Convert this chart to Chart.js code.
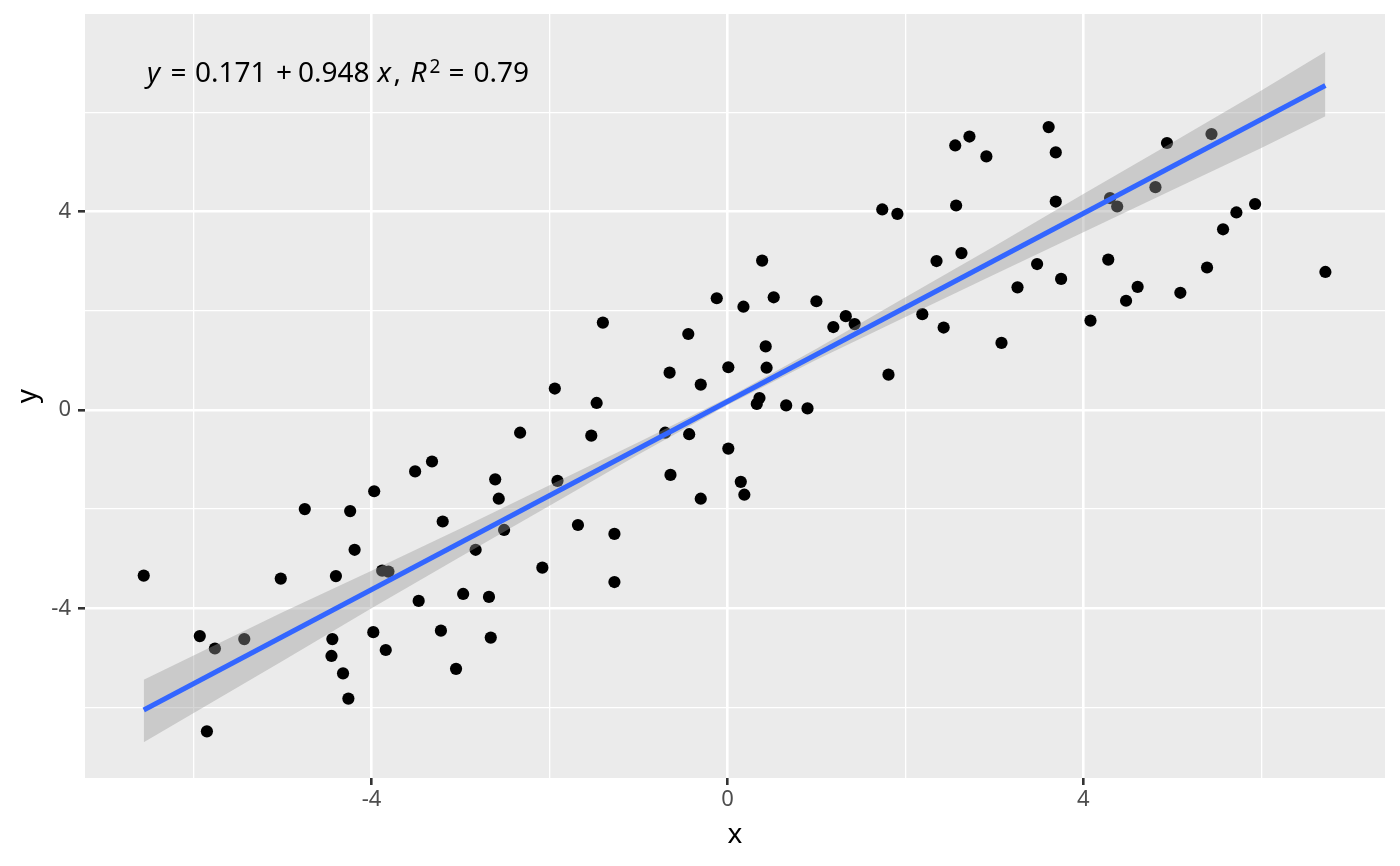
<!DOCTYPE html>
<html>
<head>
<meta charset="utf-8">
<title>Regression scatter</title>
<script src="https://cdn.jsdelivr.net/npm/chart.js@4/dist/chart.umd.min.js"></script>
<style>
  html, body { margin: 0; padding: 0; background: #ffffff; }
  canvas { display: block; }
</style>
</head>
<body>
<canvas id="regChart" width="1400" height="866"></canvas>
<script>
const xValues = [
  -6.56, -5.93, -5.76, -5.43, -5.85, -5.02, -4.75, -4.40, -4.44, -4.45,
  -4.32, -4.26, -4.24, -4.19, -3.97, -3.98, -3.88, -3.81, -3.84, -3.51,
  -3.47, -3.32, -3.20, -3.22, -3.05, -2.97, -2.83, -2.68, -2.66, -2.61,
  -2.57, -2.51, -2.33, -2.08, -1.94, -1.91, -1.68, -1.53, -1.47, -1.40,
  -1.27, -1.27, -0.70, -0.65, -0.64, -0.44, -0.43, -0.30, -0.30, -0.12,
   0.01,  0.01,  0.15,  0.18,  0.19,  0.33,  0.36,  0.39,  0.43,  0.44,
   0.52,  0.66,  0.90,  1.00,  1.19,  1.33,  1.43,  1.74,  1.81,  1.91,
   2.19,  2.35,  2.43,  2.56,  2.57,  2.63,  2.72,  2.91,  3.08,  3.26,
   3.48,  3.61,  3.69,  3.69,  3.75,  4.08,  4.28,  4.30,  4.38,  4.48,
   4.61,  4.81,  4.94,  5.09,  5.39,  5.44,  5.57,  5.72,  5.93,  6.72
];
const yValues = [
  -3.34, -4.56, -4.81, -4.62, -6.48, -3.40, -2.00, -3.35, -4.62, -4.96,
  -5.31, -5.82, -2.04, -2.82, -1.64, -4.48, -3.24, -3.26, -4.84, -1.24,
  -3.85, -1.04, -2.25, -4.45, -5.22, -3.71, -2.82, -3.77, -4.59, -1.40,
  -1.79, -2.42, -0.46, -3.18,  0.43, -1.43, -2.32, -0.52,  0.14,  1.76,
  -2.50, -3.47, -0.46,  0.75, -1.31,  1.53, -0.49,  0.51, -1.79,  2.25,
   0.86, -0.78, -1.45,  2.08, -1.71,  0.12,  0.24,  3.01,  1.28,  0.85,
   2.27,  0.09,  0.03,  2.19,  1.67,  1.89,  1.73,  4.04,  0.71,  3.95,
   1.93,  3.00,  1.66,  5.33,  4.12,  3.16,  5.51,  5.11,  1.35,  2.47,
   2.94,  5.70,  5.19,  4.20,  2.64,  1.80,  3.03,  4.27,  4.10,  2.20,
   2.48,  4.49,  5.38,  2.36,  2.87,  5.56,  3.64,  3.98,  4.15,  2.78
];

// fitted line y = 0.171 + 0.948 x over the data range
const fitX = [-6.56, 6.72];
const fitY = [-6.05, 6.54];

// confidence band edges
const bandX     = [-6.56, -5, -4, -3, -2, -1, 0, 1, 2, 3, 4, 5, 6, 6.72];
const bandLower = [-6.70, -5.06, -4.00, -2.96, -1.93, -0.90, 0.10, 1.01, 1.87, 2.73, 3.58, 4.43, 5.28, 5.92];
const bandUpper = [-5.44, -4.08, -3.24, -2.39, -1.52, -0.65, 0.24, 1.23, 2.27, 3.30, 4.35, 5.39, 6.44, 7.22];

// axes
const xTicks = [-6, -4, -2, 0, 2, 4, 6];
const yTicks = [-6, -4, -2, 0, 2, 4, 6];
const majorTicks = [-4, 0, 4];

const FONT = "'Noto Sans', 'Open Sans', 'DejaVu Sans', sans-serif";

function zip(xs, ys) {
  return xs.map((x, i) => ({ x: x, y: ys[i] }));
}
const isMajor = (ctx) => ctx.tick && majorTicks.includes(ctx.tick.value);

const panelBg = {
  id: 'panelBg',
  beforeDraw(chart) {
    const { ctx, chartArea: a } = chart;
    ctx.save();
    ctx.fillStyle = '#ffffff';
    ctx.fillRect(0, 0, chart.width, chart.height);
    ctx.fillStyle = '#EBEBEB';
    ctx.fillRect(a.left, a.top, a.right - a.left, a.bottom - a.top);
    ctx.restore();
  }
};

// regression equation label, top left of the panel
const eqLabel = {
  id: 'eqLabel',
  afterDraw(chart) {
    const ctx = chart.ctx;
    const base = 82;
    const norm = '28px ' + FONT;
    const ital = 'italic 28px ' + FONT;
    const parts = [
      { t: 'y', f: ital, x: 147 },
      { t: '=', f: norm, x: 170.5 },
      { t: '0.171', f: norm, x: 195 },
      { t: '+', f: norm, x: 276 },
      { t: '0.948', f: norm, x: 298 },
      { t: 'x', f: ital, x: 377.5 },
      { t: ',', f: norm, x: 393.5 },
      { t: 'R', f: ital, x: 410.5 },
      { t: '2', f: '19px ' + FONT, x: 429.5, sup: true },
      { t: '=', f: norm, x: 448.5 },
      { t: '0.79', f: norm, x: 473.5 }
    ];
    ctx.save();
    ctx.fillStyle = '#000000';
    ctx.textBaseline = 'alphabetic';
    ctx.textAlign = 'left';
    parts.forEach(p => {
      ctx.font = p.f;
      ctx.fillText(p.t, p.x, p.sup ? base - 9 : base);
    });
    ctx.restore();
  }
};

document.addEventListener('DOMContentLoaded', function () {
  const ctx = document.getElementById('regChart').getContext('2d');

  new Chart(ctx, {
    type: 'scatter',
    data: {
      datasets: [
        {
          label: 'points',
          data: zip(xValues, yValues),
          backgroundColor: '#000000',
          borderWidth: 0,
          pointRadius: 6.1,
          order: 3
        },
        {
          label: 'band lower',
          data: zip(bandX, bandLower),
          showLine: true,
          borderWidth: 0,
          borderColor: 'rgba(0,0,0,0)',
          pointRadius: 0,
          fill: false,
          order: 2
        },
        {
          label: 'band upper',
          data: zip(bandX, bandUpper),
          showLine: true,
          borderWidth: 0,
          borderColor: 'rgba(0,0,0,0)',
          backgroundColor: 'rgba(153,153,153,0.4)',
          pointRadius: 0,
          fill: '-1',
          order: 2
        },
        {
          label: 'fit',
          data: zip(fitX, fitY),
          showLine: true,
          borderColor: '#3366FF',
          borderWidth: 5,
          pointRadius: 0,
          fill: false,
          order: 1
        }
      ]
    },
    options: {
      responsive: false,
      devicePixelRatio: 1,
      animation: false,
      layout: { padding: { top: 14, right: 15, bottom: 0, left: 0 } },
      plugins: {
        legend: { display: false },
        tooltip: { enabled: false }
      },
      scales: {
        x: {
          type: 'linear',
          min: -7.22,
          max: 7.39,
          afterBuildTicks: (scale) => { scale.ticks = xTicks.map(v => ({ value: v })); },
          afterFit: (scale) => {
            scale.height = 88;
            scale.paddingLeft = 0;
            scale.paddingRight = 0;
          },
          border: { display: false },
          grid: {
            color: '#FFFFFF',
            lineWidth: (c) => isMajor(c) ? 2.6 : 1.3,
            tickColor: (c) => isMajor(c) ? '#333333' : 'rgba(0,0,0,0)',
            tickWidth: 2.6,
            tickLength: 7
          },
          ticks: {
            autoSkip: false,
            maxRotation: 0,
            padding: 2,
            color: '#4D4D4D',
            font: { family: FONT, size: 22, lineHeight: 1.2 },
            callback: (v) => majorTicks.includes(v) ? String(v) : ''
          },
          title: {
            display: true,
            text: 'x',
            color: '#000000',
            font: { family: FONT, size: 28, lineHeight: 1.2 },
            padding: { top: 0, bottom: 14 }
          }
        },
        y: {
          type: 'linear',
          min: -7.42,
          max: 7.98,
          afterBuildTicks: (scale) => { scale.ticks = yTicks.map(v => ({ value: v })); },
          afterFit: (scale) => {
            scale.width = 85;
            scale.paddingTop = 0;
            scale.paddingBottom = 0;
          },
          border: { display: false },
          grid: {
            color: '#FFFFFF',
            lineWidth: (c) => isMajor(c) ? 2.6 : 1.3,
            tickColor: (c) => isMajor(c) ? '#333333' : 'rgba(0,0,0,0)',
            tickWidth: 2.6,
            tickLength: 7
          },
          ticks: {
            autoSkip: false,
            padding: 7,
            color: '#4D4D4D',
            font: { family: FONT, size: 22, lineHeight: 1.2 },
            callback: (v) => majorTicks.includes(v) ? String(v) : ''
          },
          title: {
            display: true,
            text: 'y',
            color: '#000000',
            font: { family: FONT, size: 28, lineHeight: 1.2 },
            padding: { top: 11, bottom: 0 }
          }
        }
      }
    },
    plugins: [panelBg, eqLabel]
  });
});
</script>
</body>
</html>
